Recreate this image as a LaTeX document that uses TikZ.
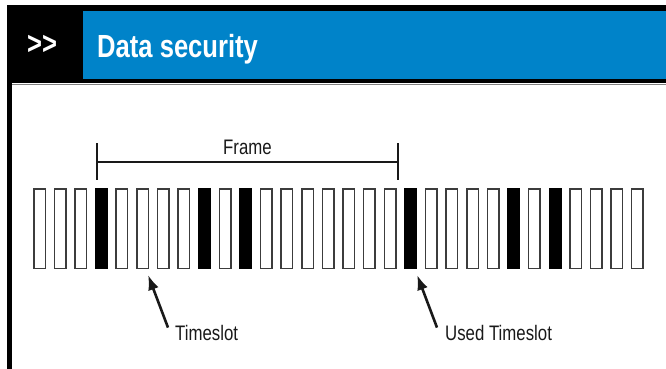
\documentclass[tikz,border=0pt]{standalone}
\usepackage{fontspec}
\setmainfont{Liberation Sans}[FakeStretch=0.8]
\newfontfamily\headfont{Liberation Sans Bold}[FakeStretch=0.8]
\usetikzlibrary{arrows.meta,positioning,calc}
\definecolor{headblue}{RGB}{0,131,201}
\definecolor{slotgray}{RGB}{60,60,60}
\definecolor{inkgray}{RGB}{25,25,25}
\tikzset{
  slotbox/.style={draw=slotgray, line width=1.5pt, minimum width=11.5pt, minimum height=79.5pt, inner sep=0pt},
  usedbox/.style={slotbox, draw=black, fill=black},
  pointer/.style={-{Latex[length=15pt,width=11pt]}, line width=2.6pt, inkgray},
  bracket/.style={line width=1.6pt, inkgray},
  lbl/.style={font=\fontsize{21}{24}\selectfont, text=inkgray, inner sep=0pt},
  headtxt/.style={font=\headfont\fontsize{32}{36}\selectfont, text=white, inner sep=0pt},
}
\begin{document}
\begin{tikzpicture}[x=1pt, y=-1pt]
    \useasboundingbox (0,0) rectangle (666,369);

    % Kopfzeile
    \fill[black] (7,5) rectangle (666,83);
    \fill[headblue] (83,11) rectangle (666,79);
    \fill[black] (7,83) rectangle (12,369);
    \draw[gray, line width=1pt] (12,84.5) -- (666,84.5);
    \node[headtxt, anchor=base west] (marker) at (27,55) {>{}>};
    \node[headtxt, anchor=base west] (title) at (97,57) {Data security};

    % Zeitschlitze
    \foreach \i in {1,...,30} {
        \node[slotbox] (slot\i) at ({39.5+(\i-1)*20.62},228.5) {};
    }
    \foreach \i in {4,9,11,19,24,26} {
        \node[usedbox] (used\i) at (slot\i) {};
    }

    % Rahmen
    \coordinate (frameL) at (97,162);
    \coordinate (frameR) at (398,162);
    \draw[bracket] (frameL) -- node[lbl, anchor=base, yshift=8pt] (framelbl) {Frame} (frameR);
    \draw[bracket] ($(frameL)+(0,-19)$) -- ($(frameL)+(0,18)$);
    \draw[bracket] ($(frameR)+(0,-19)$) -- ($(frameR)+(0,18)$);

    % Beschriftungen
    \node[lbl, anchor=base west] (tslbl) at (175,340) {Timeslot};
    \node[lbl, anchor=base west] (usedlbl) at (445,340) {Used Timeslot};
    \draw[pointer] ($(tslbl.north west)+(-7,3)$) -- ($(slot6.south east)+(-1,6)$);
    \draw[pointer] ($(usedlbl.north west)+(-8,3)$) -- ($(slot19.south east)+(0,6)$);
  \end{tikzpicture}
\end{document}
